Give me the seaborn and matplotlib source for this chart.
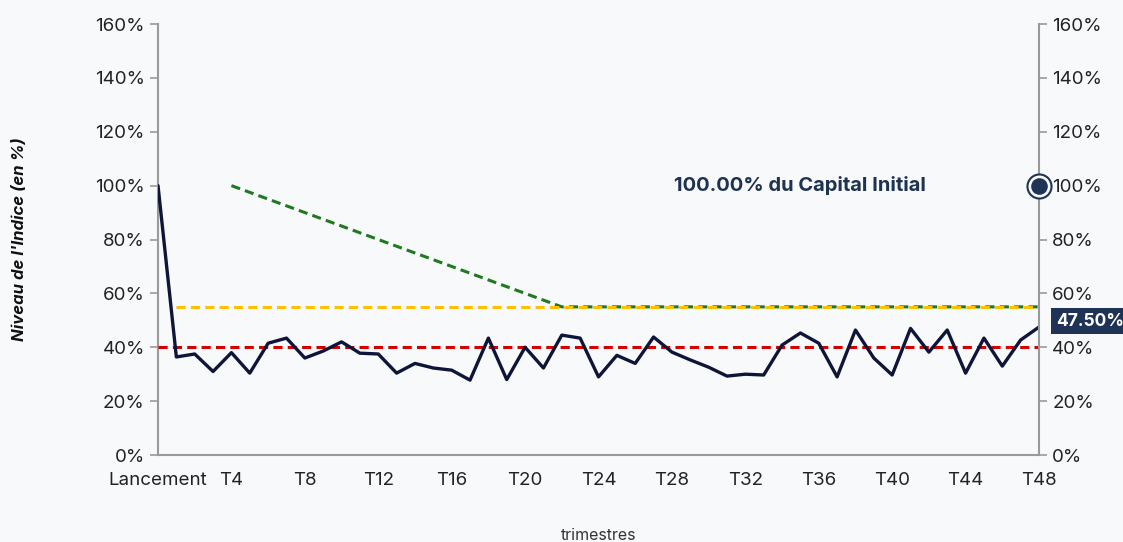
import matplotlib
matplotlib.use("Agg")
import matplotlib.pyplot as plt
import seaborn as sns
import pandas as pd
import numpy as np

# valeurs (niveau de l'indice en %)
trimestres = list(range(0, 49))
indice = [100, 36.4, 37.5, 31, 38, 30.4, 41.5, 43.4, 36, 38.6,
          42, 37.8, 37.5, 30.4, 34, 32.3, 31.5, 27.8, 43.4, 28,
          40, 32.3, 44.5, 43.4, 29, 37, 34, 43.8, 38.2, 35.3,
          32.6, 29.3, 30, 29.7, 40.8, 45.3, 41.5, 29, 46.4, 36,
          29.7, 47, 38.2, 46.4, 30.4, 43.4, 33, 42.7, 47.5]
barriere_coupon_x = [0, 48]
barriere_coupon = [40, 40]
barriere_capital_x = [1, 48]
barriere_capital = [55, 55]
autocall_x = [4, 22, 48]
autocall = [100, 55, 55]
tick_pos = [0, 4, 8, 12, 16, 20, 24, 28, 32, 36, 40, 44, 48]
tick_labels = ["Lancement", "T4", "T8", "T12", "T16", "T20", "T24", "T28",
               "T32", "T36", "T40", "T44", "T48"]
y_ticks = [0, 20, 40, 60, 80, 100, 120, 140, 160]

bg = "#f7f9fb"
navy = "#0f1538"
sns.set_style("white", {"axes.facecolor": bg, "figure.facecolor": bg})
plt.rcParams['font.family'] = ['Inter', 'DejaVu Sans']

df = pd.DataFrame({"t": trimestres, "v": indice})

fig = plt.figure(figsize=(11.23, 5.42), dpi=100)
ax = fig.add_axes([0.1407, 0.1605, 0.9252 - 0.1407, 0.9557 - 0.1605])

dash = (0, (3, 1.7))
sns.lineplot(x=autocall_x, y=autocall, ax=ax, color="#1f7a1f", lw=2.2,
             linestyle=dash, zorder=2)
sns.lineplot(x=barriere_capital_x, y=barriere_capital, ax=ax, color="#ffc000",
             lw=2.2, linestyle=dash, zorder=3)
sns.lineplot(x=barriere_coupon_x, y=barriere_coupon, ax=ax, color="#d40000",
             lw=2.2, linestyle=dash, zorder=3)
sns.lineplot(data=df, x="t", y="v", ax=ax, color=navy, lw=2.4, zorder=4)

ax.set_xlim(0, 48)
ax.set_ylim(0, 160)
ax.set_xticks(tick_pos)
ax.set_xticklabels(tick_labels)
ax.set_yticks(y_ticks)
ax.set_yticklabels([f"{v}%" for v in y_ticks])

for s in ["top", "right"]:
    ax.spines[s].set_visible(False)
for s in ["left", "bottom"]:
    ax.spines[s].set_color("#9a9a9a")
    ax.spines[s].set_linewidth(1.5)
ax.tick_params(axis="both", colors="#9a9a9a", length=6, width=1.2,
               labelcolor="#222222", labelsize=13.5)
ax.tick_params(axis="x", pad=6)

ax2 = ax.twinx()
ax2.set_ylim(0, 160)
ax2.set_yticks(y_ticks)
ax2.set_yticklabels([f"{v}%" for v in y_ticks])
for s in ["top", "left", "bottom"]:
    ax2.spines[s].set_visible(False)
ax2.spines["right"].set_color("#9a9a9a")
ax2.spines["right"].set_linewidth(1.5)
ax2.tick_params(axis="y", colors="#9a9a9a", length=6, width=1.2,
                labelcolor="#222222", labelsize=13.5)

# point final a 100%
ax2.set_xlim(0, 48)
ax2.scatter([48], [100], s=300, color=bg, edgecolor="#1e3356", linewidth=1.5,
            zorder=6, clip_on=False)
ax2.scatter([48], [100], s=120, color="#1e3356", zorder=7, clip_on=False)
ax.text(35, 100, "100.00% du Capital Initial", ha="center", va="center",
        fontsize=14.5, fontweight="bold", color="#1e3350")

ax2.annotate("47.50%", xy=(48, 47.5), xytext=(12, -2), textcoords="offset points",
             ha="left", va="bottom", fontsize=12.5, fontweight="bold",
             color="white", annotation_clip=False,
             bbox=dict(boxstyle="square,pad=0.25", fc="#1e3356", ec="none"),
             zorder=8)

ax.set_ylabel("Niveau de l'Indice (en %)", fontsize=12, fontstyle="italic",
              fontweight="bold", color="#111111", va="center")
ax.yaxis.set_label_coords(-0.157, 0.5)
ax.set_xlabel("trimestres", fontsize=11.5, color="#333333", va="center")
ax.xaxis.set_label_coords(0.5, -0.186)

fig.savefig("out.png", dpi=100, facecolor=bg)
